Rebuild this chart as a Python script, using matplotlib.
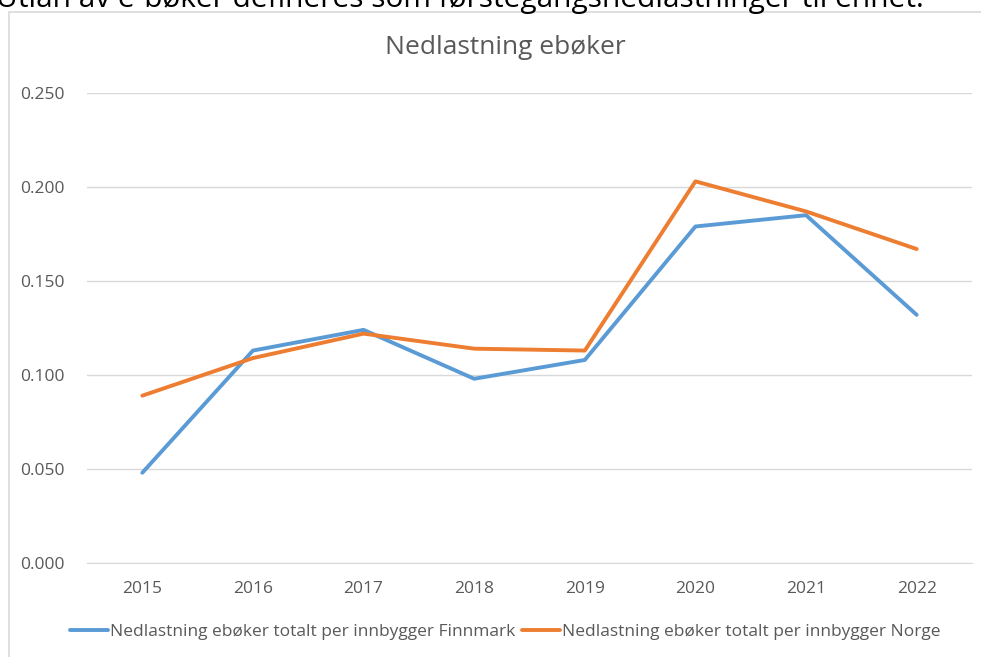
import matplotlib.pyplot as plt
from matplotlib.patches import Rectangle

years = ['2015', '2016', '2017', '2018', '2019', '2020', '2021', '2022']
finnmark = [0.048, 0.113, 0.124, 0.098, 0.108, 0.179, 0.185, 0.132]
norge = [0.089, 0.109, 0.122, 0.114, 0.113, 0.203, 0.187, 0.167]

label_f = 'Nedlastning ebøker totalt per innbygger Finnmark'
label_n = 'Nedlastning ebøker totalt per innbygger Norge'
grey = '#595959'

plt.rcParams['font.family'] = ['Open Sans', 'DejaVu Sans']

fig = plt.figure(figsize=(9.81, 6.57), dpi=100)

# chart frame (cut off at right and bottom)
fig.patches.append(Rectangle((9 / 981, -0.1), 1.1, 1 - 12 / 657 + 0.1,
                             transform=fig.transFigure, fill=False,
                             edgecolor='#d9d9d9', linewidth=1.2))

# text from the page above, only lower half visible
fig.text(-0.004, 1.0 - 7 / 657, 'Utlån av e-bøker defineres som førstegangsnedlastninger til enhet.',
         fontsize=21.5, ha='left', va='baseline', color='black')

ax = fig.add_axes([87 / 981, 1 - 563 / 657, 885 / 981, 470 / 657])
x = list(range(len(years)))
ax.plot(x, finnmark, color='#5B9BD5', linewidth=2.8, label=label_f, solid_capstyle='round')
ax.plot(x, norge, color='#ED7D31', linewidth=2.8, label=label_n, solid_capstyle='round')

ax.set_xlim(-0.5, len(years) - 0.5)
ax.set_ylim(0, 0.25)
ax.set_yticks([0, 0.05, 0.10, 0.15, 0.20, 0.25])
ax.set_yticklabels(['%.3f' % v for v in [0, 0.05, 0.10, 0.15, 0.20, 0.25]])
ax.set_xticks(x)
ax.set_xticklabels(years)
ax.tick_params(axis='both', length=0, labelsize=12.5, labelcolor=grey)
ax.tick_params(axis='y', pad=16)
ax.tick_params(axis='x', pad=13)
ax.grid(axis='y', color='#d9d9d9', linewidth=1)
ax.set_axisbelow(True)
for s in ['top', 'right', 'left']:
    ax.spines[s].set_visible(False)
ax.spines['bottom'].set_color('#d9d9d9')

fig.text(0.515, 1 - 47 / 657, 'Nedlastning ebøker', fontsize=19, ha='center', va='center', color=grey)

fig.legend(loc='center', bbox_to_anchor=(0.515, 1 - 632 / 657), ncol=2, frameon=False,
           fontsize=12.5, labelcolor=grey, handlelength=2.2, handletextpad=0.1, columnspacing=0.4)

fig.savefig('out.png', dpi=100)
